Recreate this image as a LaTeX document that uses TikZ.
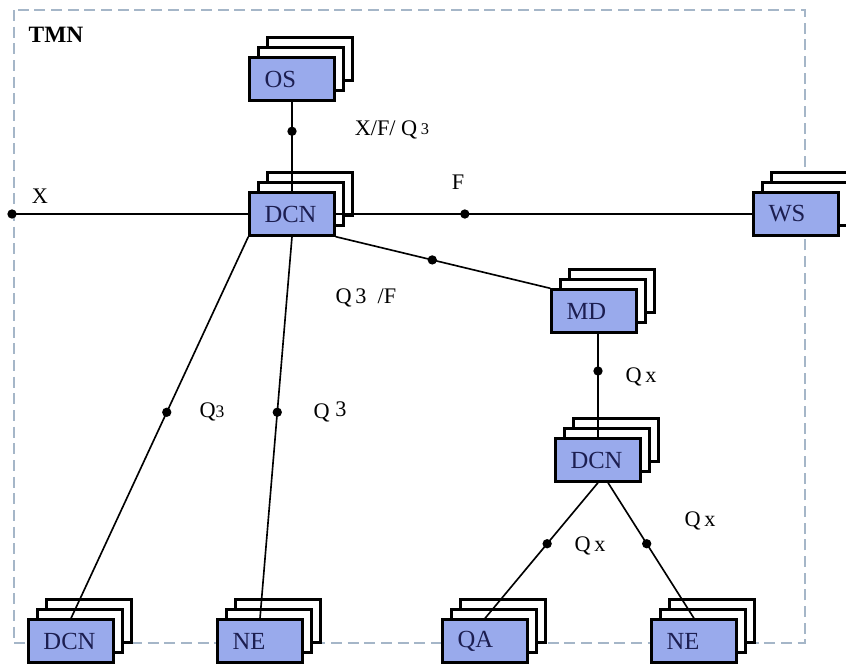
\documentclass[tikz,border=0pt]{standalone}
\usepackage{fontspec}
\setmainfont{Liberation Serif}
\usetikzlibrary{shadows}
\definecolor{boxblue}{RGB}{153,170,236}
\definecolor{boxtext}{RGB}{28,30,80}
\definecolor{frameline}{RGB}{165,182,200}
\tikzset{
  unit/.style={draw=black, line width=2pt, fill=boxblue, text=boxtext,
    text width=1.65cm, align=left, inner xsep=0.45cm, inner ysep=0pt,
    minimum height=1.29cm, font=\fontsize{21}{23}\selectfont,
    double copy shadow={shadow xshift=0.27cm, shadow yshift=0.3cm,
      fill=white, draw=black, line width=2pt}},
  iface/.style={circle, fill=black, inner sep=0pt, minimum size=0.28cm},
  link/.style={draw=black, line width=1.4pt},
  lbl/.style={font=\fontsize{19}{21}\selectfont},
}
\begin{document}
\begin{tikzpicture}[x=0.03cm, y=-0.03cm]
  \useasboundingbox (0,0) rectangle (846,664);
  % TMN frame
  \draw[frameline, line width=1pt, dash pattern=on 0.33cm off 0.17cm]
    (14,10) rectangle (805,643);
  \node[font=\bfseries\fontsize{20}{22}\selectfont] (tmn) at (56,35) {TMN};

  % blocks
  \node[unit] (os) at (292,79) {OS};
  \node[unit] (dcn) at (292,214) {DCN};
  \node[unit] (ws) at (796,214) {WS};
  \node[unit] (md) at (594,311) {MD};
  \node[unit] (dcnq) at (598,460) {DCN};
  \node[unit] (dcnb) at (71,641) {DCN};
  \node[unit] (neb) at (260,641) {NE};
  \node[unit] (qa) at (485,641) {QA};
  \node[unit] (nex) at (694,641) {NE};
  \coordinate (xend) at (12,214);

  % reference points
  \draw[link] (os) -- node[iface, pos=0.33]{} (dcn);
  \draw[link] (xend) node[iface]{} -- (dcn);
  \draw[link] (dcn) -- node[iface, pos=0.31]{} (ws);
  \draw[link] (dcn.south east) -- node[iface, pos=0.45]{} (md.north west);
  \draw[link] (dcn.south west) -- node[iface, pos=0.46]{} (dcnb.north);
  \draw[link] (dcn.south) -- node[iface, pos=0.46]{} (neb.north);
  \draw[link] (dcnq.north |- md.south) -- node[iface, pos=0.36]{} (dcnq.north);
  \draw[link] (dcnq.south) -- node[iface, pos=0.45]{} (qa.north);
  \draw[link] ([xshift=0.3cm]dcnq.south) -- node[iface, pos=0.45]{} (nex.north);

  % labels
  \node[lbl] (lx) at (40,196) {X};
  \node[lbl] (lf) at (458,182) {F};
  \node[lbl] (lxfq) at (392,130) {X/F/ Q\,\raisebox{1pt}{\fontsize{14}{14}\selectfont 3}};
  \node[lbl] (lqf) at (366,298) {Q\,3~ /F};
  \node[lbl] (lqa) at (212,412) {Q{\fontsize{15}{15}\selectfont 3}};
  \node[lbl] (lqb) at (330,412) {Q \raisebox{2pt}{3}};
  \node[lbl] (lqx) at (641,377) {Q\,x};
  \node[lbl] (lqy) at (700,521) {Q\,x};
  \node[lbl] (lqz) at (590,546) {Q\,x};
\end{tikzpicture}
\end{document}
